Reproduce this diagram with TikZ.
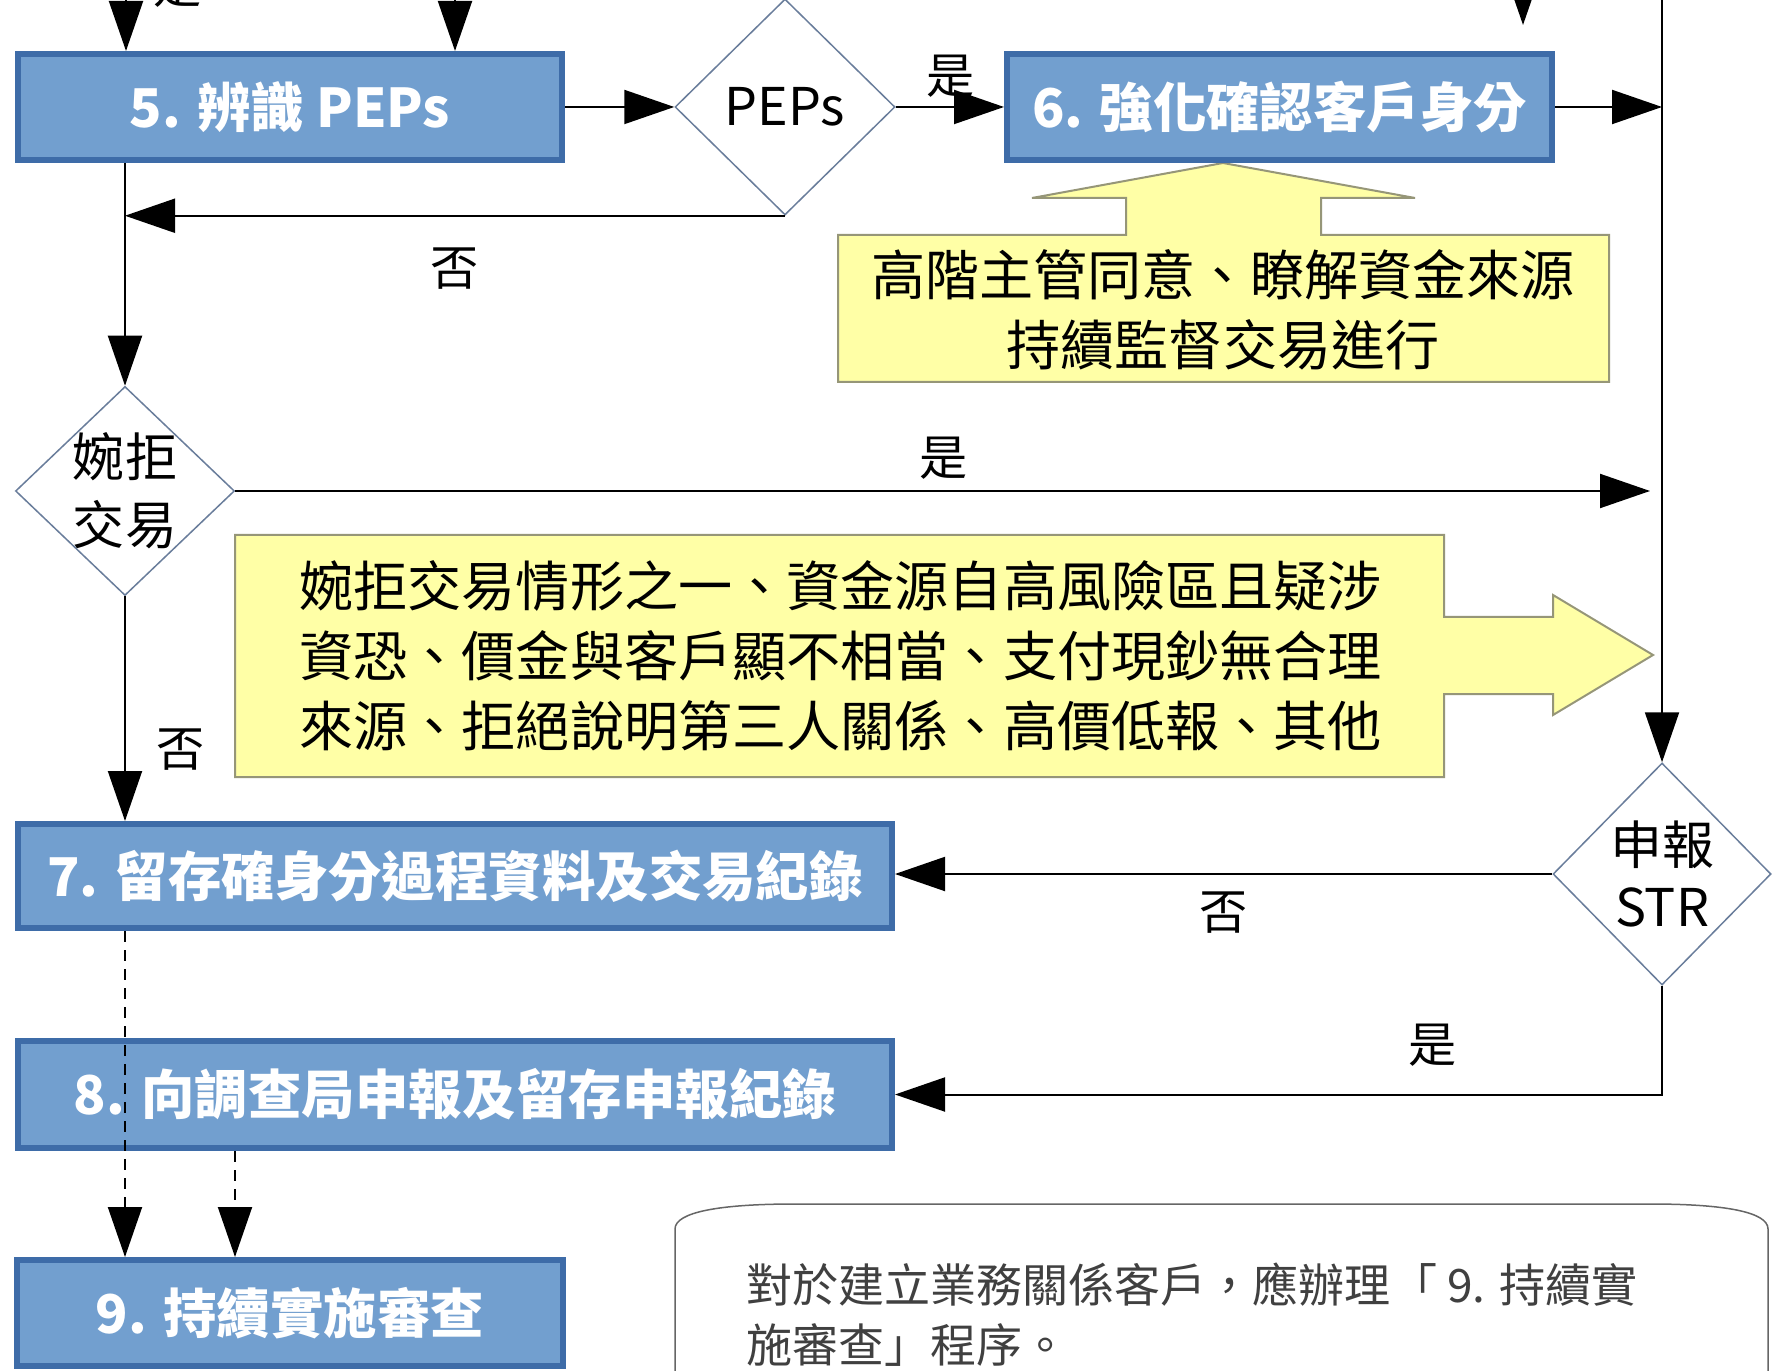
\documentclass[tikz,border=0pt]{standalone}
\usepackage{fontspec}
\setmainfont{Noto Sans CJK TC}
\usetikzlibrary{shapes.geometric,arrows.meta}
\definecolor{boxblue}{RGB}{114,159,207}
\definecolor{boxline}{RGB}{62,108,168}
\definecolor{noteyellow}{RGB}{255,255,166}
\definecolor{noteline}{RGB}{150,150,120}
\definecolor{dialine}{RGB}{105,125,155}
\tikzstyle{stepbox} = [rectangle, draw=boxline, line width=0.6mm, fill=boxblue, text=white, inner sep=0pt, font=\bfseries\fontsize{15.2}{18}\selectfont]
\tikzstyle{decision} = [diamond, draw=dialine, line width=0.15mm, fill=white, inner sep=0pt]
\tikzstyle{arrow} = [line width=0.2mm, -{Triangle[length=5mm,width=3.4mm]}]
\tikzstyle{yn} = [font=\fontsize{13.7}{16}\selectfont]
\tikzstyle{callout} = [draw=noteline, line width=0.2mm, fill=noteyellow]

\begin{document}
\begin{tikzpicture}[x=0.1mm, y=-0.1mm]
\clip (0,0) rectangle (1772,1371);
\fill[white] (0,0) rectangle (1772,1371);

% yellow callouts
\draw[callout] (838,382) -- (838,235) -- (1126,235) -- (1126,198) -- (1032,198) -- (1223,163)
    -- (1415,198) -- (1321,198) -- (1321,235) -- (1609,235) -- (1609,382) -- cycle;
\draw[callout] (235,535) -- (1444,535) -- (1444,617) -- (1553,617) -- (1553,595) -- (1653,655)
    -- (1553,715) -- (1553,694) -- (1444,694) -- (1444,777) -- (235,777) -- cycle;
\node[align=center, font=\fontsize{15.4}{19.9}\selectfont] (advice) at (1223,310)
    {高階主管同意、瞭解資金來源\\持續監督交易進行};
\node[anchor=west, align=left, font=\fontsize{15.4}{19.9}\selectfont] (reasons) at (287,656)
    {婉拒交易情形之一、資金源自高風險區且疑涉\\資恐、價金與客戶顯不相當、支付現鈔無合理\\來源、拒絕說明第三人關係、高價低報、其他};

% steps
\node[stepbox, minimum width=54.4mm, minimum height=10.6mm] (box5) at (290,107) {5. 辨識 PEPs};
\node[stepbox, minimum width=54.5mm, minimum height=10.6mm] (box6) at (1279.5,107) {6. 強化確認客戶身分};
\node[stepbox, minimum width=87.4mm, minimum height=10.4mm] (box7) at (455,876) {7. 留存確身分過程資料及交易紀錄};
\node[stepbox, minimum width=87.4mm, minimum height=10.7mm] (box8) at (455,1094.5) {8. 向調查局申報及留存申報紀錄};
\node[stepbox, minimum width=54.6mm, minimum height=10.6mm] (box9) at (290,1313) {9. 持續實施審查};

% decisions
\node[decision, minimum width=22mm, minimum height=21.6mm,
    label={[font=\fontsize{14.8}{18}\selectfont]center:PEPs}] (pep) at (785,107) {};
\node[decision, minimum width=21.9mm, minimum height=20.9mm,
    label={[align=center, font=\fontsize{14.8}{19.3}\selectfont]center:婉拒\\交易}] (refuse) at (125,491) {};
\node[decision, minimum width=21.8mm, minimum height=22.2mm,
    label={[align=center, font=\fontsize{14.8}{17.6}\selectfont]center:申報\\STR}] (str) at (1662,874) {};

% ends coming from above
\coordinate (top1) at (126,-60);
\coordinate (top2) at (455,-60);
\coordinate (top3) at (1523,-60);
\coordinate (top3end) at (1523,25);
\coordinate (rtop) at (1662,-60);

\draw[arrow] (top1) -- (top1 |- box5.north);
\draw[arrow] (top2) -- (top2 |- box5.north);
\draw[arrow] (top3) -- (top3end);
\draw[arrow] (rtop) -- (str.north);
\draw[arrow] (box5.east) -- (pep.west);
\draw[arrow] (pep.east) -- (box6.west);
\draw[arrow] (box6.east) -- (box6.east -| str.north);
\draw[arrow] (pep.south) -- (pep.south -| refuse.north);
\draw[arrow] (box5.south -| refuse.north) -- (refuse.north);
\draw[arrow, shorten >=1.2mm] (refuse.east) -- (refuse.east -| str.north);
\draw[arrow] (refuse.south) -- (refuse.south |- box7.north);
\draw[arrow] (str.west) -- (str.west -| box7.east);
\draw[arrow] (str.south) |- (box8.east);
\draw[arrow, dash pattern=on 1.1mm off 0.8mm] (box7.south -| refuse.south) -- (refuse.south |- box9.north);
\draw[arrow, dash pattern=on 1.1mm off 0.8mm] ([xshift=-22mm]box8.south) -- ([xshift=-22mm]box8.south |- box9.north);

% yes / no
\node[yn] (y0) at (178,-14) {是};
\node[yn] (y1) at (951,76) {是};
\node[yn] (n1) at (455,269) {否};
\node[yn] (y2) at (944,458) {是};
\node[yn] (n2) at (181,750) {否};
\node[yn] (n3) at (1224,913) {否};
\node[yn] (y3) at (1433,1045) {是};

% remark
\draw[draw=gray!80!black, line width=0.15mm] (675,1400) -- (675,1229) .. controls (675,1212) and (720,1204) .. (795,1204)
    -- (1650,1204) .. controls (1725,1204) and (1768,1212) .. (1768,1229) -- (1768,1400);
\node[anchor=west, align=left, text=black!75, font=\fontsize{13.1}{17.1}\selectfont] (remark) at (734,1315)
    {對於建立業務關係客戶，應辦理「\ 9. 持續實\\施審查」程序。};
\end{tikzpicture}
\end{document}
